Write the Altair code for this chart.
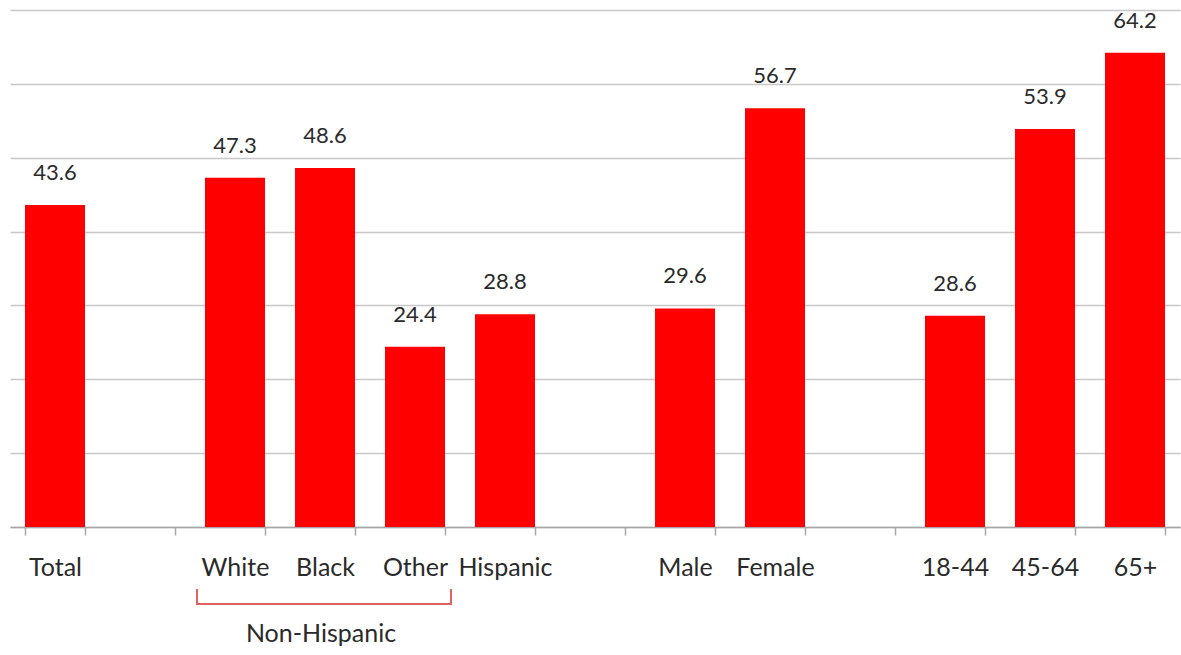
import altair as alt
import pandas as pd

# slots on the x axis (blank strings are the empty gaps between groups)
categories = ["Total", " ", "White", "Black", "Other", "Hispanic", "  ",
              "Male", "Female", "   ", "18-44", "45-64", "65+"]
groups = ["Total", "White", "Black", "Other", "Hispanic",
          "Male", "Female", "18-44", "45-64", "65+"]
values = [43.6, 47.3, 48.6, 24.4, 28.8, 29.6, 56.7, 28.6, 53.9, 64.2]
grid_values = [0, 10, 20, 30, 40, 50, 60, 70]

bracket_start = ["White"]
bracket_end = ["Other"]
bracket_mid = ["Black"]
bracket_label = ["Non-Hispanic"]

df = pd.DataFrame({"group": groups, "value": values})
bdf = pd.DataFrame({"start": bracket_start, "end": bracket_end,
                    "mid": bracket_mid, "label": bracket_label})

W, H = 1170, 517
xscale = alt.Scale(domain=categories, paddingInner=1/3, paddingOuter=1/6)
yscale = alt.Scale(domain=[0, 70], nice=False, zero=True)

FONT = "Lato"
TXT = "#2a2a2a"

bars = alt.Chart(df).mark_bar(color="#ff0000").encode(
    x=alt.X("group:N", scale=xscale, sort=categories,
            axis=alt.Axis(title=None, labelAngle=0, labelFont=FONT,
                          labelFontSize=25, labelColor=TXT, labelPadding=20,
                          tickBand="extent", tickSize=8, tickColor="#a6a6a6",
                          tickWidth=1.5, domainColor="#a6a6a6", domainWidth=1.5,
                          labelOverlap=False, grid=False)),
    y=alt.Y("value:Q", scale=yscale,
            axis=alt.Axis(title=None, labels=False, ticks=False, domain=False,
                          grid=True, gridColor="#c8c8c8", gridWidth=1.5,
                          values=grid_values)),
)

labels = alt.Chart(df).mark_text(
    font=FONT, fontSize=22, color=TXT, dy=-25, baseline="alphabetic"
).encode(
    x=alt.X("group:N", scale=xscale, sort=categories),
    y=alt.Y("value:Q", scale=yscale),
    text=alt.Text("value:Q", format=".1f"),
)

BR = "#e06262"
hline = alt.Chart(bdf).mark_rule(color=BR, strokeWidth=2, xOffset=-38, x2Offset=36).encode(
    x=alt.X("start:N", scale=xscale, sort=categories),
    x2="end:N",
    y=alt.value(H + 77),
)
lend = alt.Chart(bdf).mark_rule(color=BR, strokeWidth=2, xOffset=-38).encode(
    x=alt.X("start:N", scale=xscale, sort=categories),
    y=alt.value(H + 62), y2=alt.value(H + 78),
)
rend = alt.Chart(bdf).mark_rule(color=BR, strokeWidth=2, xOffset=36).encode(
    x=alt.X("end:N", scale=xscale, sort=categories),
    y=alt.value(H + 62), y2=alt.value(H + 78),
)
btext = alt.Chart(bdf).mark_text(
    font=FONT, fontSize=25, color=TXT, dx=-4, baseline="alphabetic"
).encode(
    x=alt.X("mid:N", scale=xscale, sort=categories),
    y=alt.value(H + 115),
    text="label:N",
)

chart = alt.layer(bars, labels, hline, lend, rend, btext).properties(
    width=W, height=H,
    autosize=alt.AutoSizeParams(type="none"),
    padding={"left": 10, "top": 10, "right": 1, "bottom": 128},
    background="white",
).configure_view(strokeWidth=0, stroke="transparent")

chart.save("out.html", embed_options={"renderer": "svg", "actions": False})
